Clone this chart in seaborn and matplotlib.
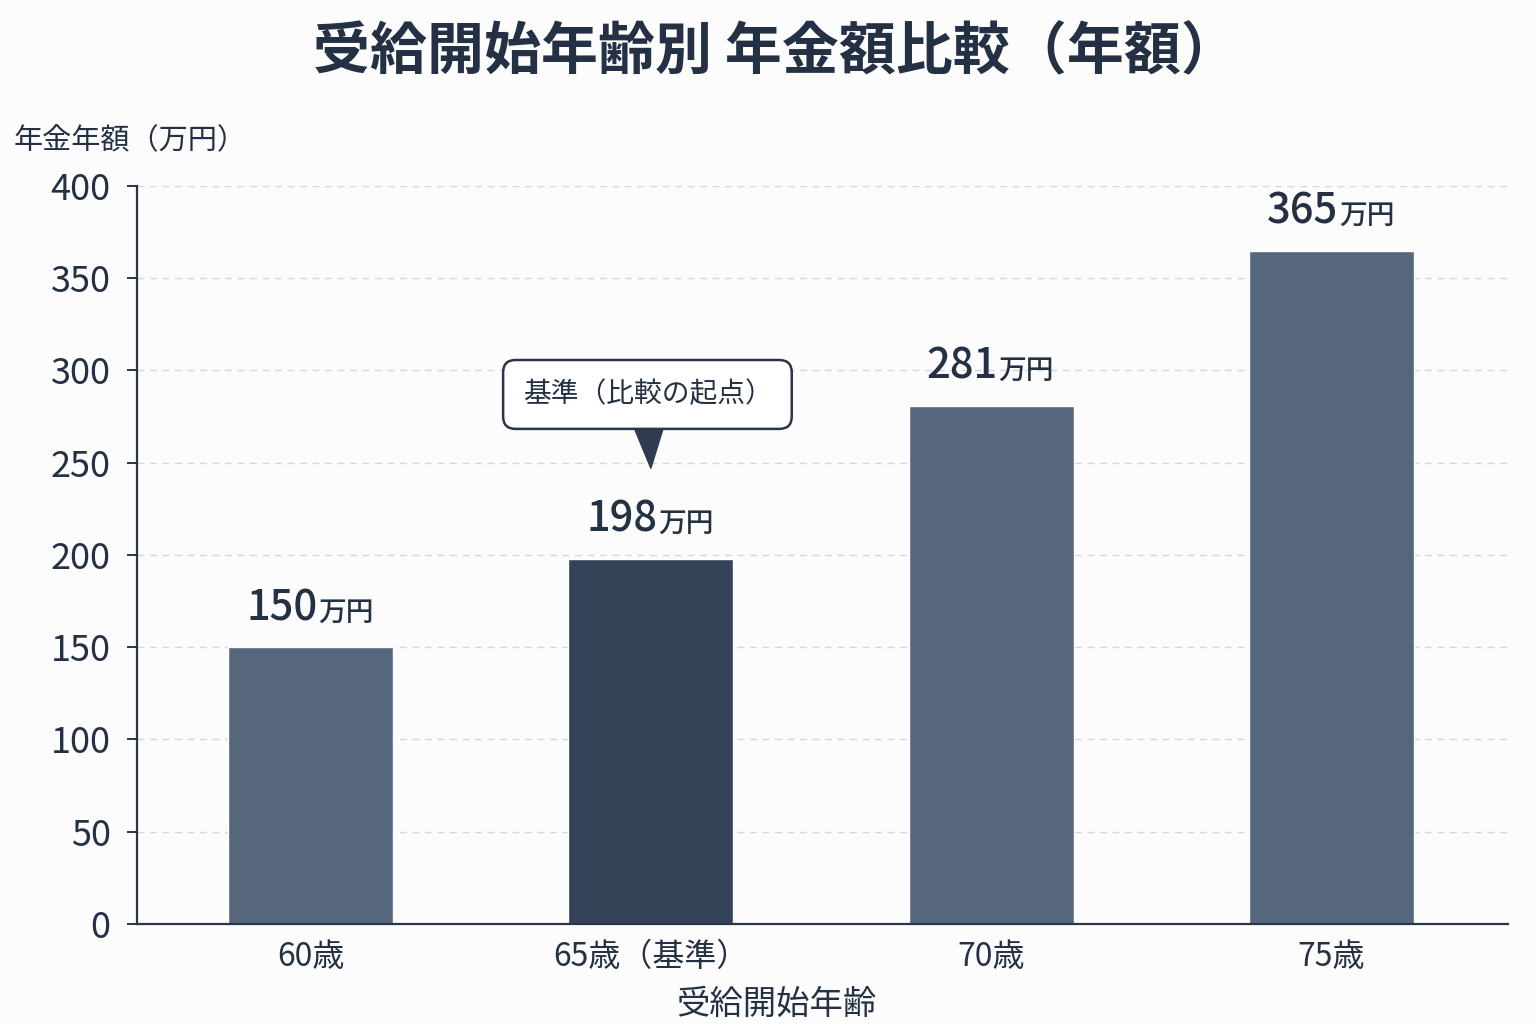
import matplotlib
matplotlib.use("Agg")
import matplotlib.pyplot as plt
import pandas as pd
import seaborn as sns

# data
ages = ["60歳", "65歳（基準）", "70歳", "75歳"]
amounts = [150, 198, 281, 365]
base_index = 1

title = "受給開始年齢別 年金額比較（年額）"
y_label = "年金年額（万円）"
x_label = "受給開始年齢"
callout = "基準（比較の起点）"
unit = "万円"

TEXT = "#243044"
BAR = "#56677d"
BAR_BASE = "#344358"

sns.set_theme(style="white")
plt.rcParams["font.family"] = ["Noto Sans CJK JP", "DejaVu Sans"]

df = pd.DataFrame({"age": ages, "amount": amounts})
palette = [BAR_BASE if i == base_index else BAR for i in range(len(ages))]

fig = plt.figure(figsize=(15.36, 10.24), dpi=100)
fig.patch.set_facecolor("#fcfcfd")
ax = fig.add_axes([0.0892, 0.0977, 0.8928, 0.7207])
ax.set_facecolor("#fcfcfd")

sns.barplot(data=df, x="age", y="amount", hue="age", palette=palette,
            legend=False, width=0.485, saturation=1, ax=ax)

ax.set_ylim(0, 400)
ax.set_xlim(-0.51, 3.52)
ax.set_yticks(range(0, 401, 50))
ax.yaxis.grid(True, linestyle=(0, (5, 4)), color="#d4d7dc", linewidth=1)
ax.set_axisbelow(True)
for s in ["top", "right"]:
    ax.spines[s].set_visible(False)
for s in ["left", "bottom"]:
    ax.spines[s].set_color("#2a3547")
    ax.spines[s].set_linewidth(1.6)

ax.tick_params(axis="y", length=7, width=1.4, color="#2a3547",
               labelsize=26, labelcolor=TEXT, pad=12, left=True)
ax.tick_params(axis="x", length=0, labelsize=23, labelcolor=TEXT, pad=12)
ax.set_xlabel(x_label, fontsize=24, color=TEXT, labelpad=8)
ax.xaxis.set_label_coords(0.466, -0.085)
ax.set_ylabel("")
fig.text(0.009, 0.862, y_label, fontsize=21, color=TEXT, ha="left", va="center")
fig.text(0.505, 0.949, title, fontsize=41, fontweight="bold", color=TEXT,
         ha="center", va="center")

# value labels: big number + small unit
for i, v in enumerate(amounts):
    ax.annotate(str(v), (i + 0.02, v), xytext=(0, 13), textcoords="offset points",
                ha="right", va="bottom", fontsize=30, fontweight="medium", color=TEXT)
    ax.annotate(unit, (i + 0.02, v), xytext=(0.5, 15), textcoords="offset points",
                ha="left", va="bottom", fontsize=20, fontweight="medium", color=TEXT)

# callout above the base bar
ax.annotate(callout, xy=(base_index, amounts[base_index] + 49),
            xytext=(base_index - 0.01, amounts[base_index] + 89),
            ha="center", va="center", fontsize=20, color=TEXT,
            bbox=dict(boxstyle="round,pad=0.7,rounding_size=0.45", fc="white",
                      ec="#2a3547", lw=1.8),
            arrowprops=dict(arrowstyle="wedge,tail_width=1.0", fc="#2f3b4e",
                            ec="#2f3b4e", shrinkA=0, shrinkB=0))

fig.savefig("out.png", dpi=100, facecolor=fig.get_facecolor())
